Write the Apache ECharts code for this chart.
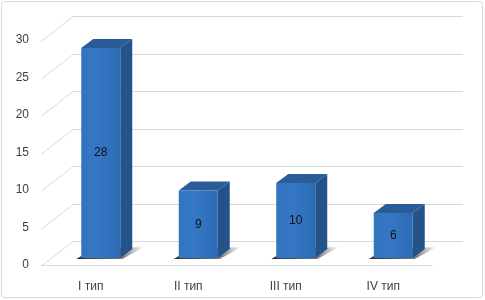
<!DOCTYPE html>
<html>
<head>
<meta charset="utf-8">
<script src="https://cdn.jsdelivr.net/npm/echarts@6/dist/echarts.min.js"></script>
<style>
html,body{margin:0;padding:0;background:#fff;}
#chart{width:485px;height:300px;}
</style>
</head>
<body>
<div id="chart"></div>
<script>
var categories = ['I тип', 'II тип', 'III тип', 'IV тип'];
var values = [28, 9, 10, 6];
var yTicks = [0, 5, 10, 15, 20, 25, 30];

var WALL_DX = 31, WALL_DY = -24;
var BAR_DX = 10, BAR_DY = -7;
var SIDE_DX = 12, SIDE_DY = -9;

var chart = echarts.init(document.getElementById('chart'), null, {renderer: 'canvas'});

function renderGrid(params, api) {
  var v = api.value(1);
  var cs = params.coordSys;
  var p = api.coord([0, v]);
  var y = Math.round(p[1]) + 0.5;
  var x0 = cs.x, x1 = cs.x + cs.width;
  return {
    type: 'polyline',
    shape: {points: [[x0 - 1, y + 1], [x0 + WALL_DX, y + WALL_DY], [x1 + WALL_DX, y + WALL_DY]]},
    style: {stroke: '#d9d9d9', lineWidth: 1, fill: null}
  };
}

function renderBar(params, api) {
  var idx = api.value(0);
  var v = api.value(1);
  var p0 = api.coord([idx, 0]);
  var p1 = api.coord([idx, v]);
  var bw = api.size([1, 0])[0];
  var w = bw * 0.4;
  var fx = p0[0] + BAR_DX - w / 2;
  var by = p0[1] + BAR_DY;
  var ty = p1[1] + BAR_DY;
  var rx = fx + w;
  return {
    type: 'group',
    children: [
      {type: 'polygon', shape: {points: [[fx - 5, by + 1], [rx + 2, by + 1], [rx + SIDE_DX + 12, by + SIDE_DY - 2], [fx + SIDE_DX, by + SIDE_DY]]},
        style: {fill: new echarts.graphic.LinearGradient(0, 0, 1, 0, [
          {offset: 0, color: 'rgba(20,20,20,0.9)'},
          {offset: 0.7, color: 'rgba(40,40,40,0.6)'},
          {offset: 1, color: 'rgba(80,80,80,0)'}])}},
      {type: 'polygon', shape: {points: [[rx, ty], [rx + SIDE_DX, ty + SIDE_DY], [rx + SIDE_DX, by + SIDE_DY], [rx, by]]},
        style: {fill: '#24538a'}},
      {type: 'polygon', shape: {points: [[fx, ty], [fx + SIDE_DX, ty + SIDE_DY], [rx + SIDE_DX, ty + SIDE_DY], [rx, ty]]},
        style: {fill: '#2a5c98'}},
      {type: 'rect', shape: {x: fx, y: ty, width: w, height: by - ty},
        style: {fill: new echarts.graphic.LinearGradient(0, 0, 1, 0, [
          {offset: 0, color: '#3274c0'},
          {offset: 0.4, color: '#3577c4'},
          {offset: 1, color: '#2d6cb5'}])}},
      {type: 'text', style: {text: String(v), x: fx + w / 2, y: (ty + by) / 2, align: 'center', verticalAlign: 'middle',
        fill: '#111', font: '12px "Liberation Sans", Arial, sans-serif'}}
    ]
  };
}

var option = {
  animation: false,
  backgroundColor: '#fff',
  grid: {left: 42, right: 53, top: 40, bottom: 35},
  xAxis: {
    type: 'category',
    data: categories,
    axisLine: {show: true, lineStyle: {color: '#d9d9d9'}},
    axisTick: {show: false},
    splitLine: {show: false},
    axisLabel: {color: '#404040', fontSize: 12, margin: 16, fontFamily: 'Liberation Sans'}
  },
  yAxis: {
    type: 'value',
    min: 0, max: 30, interval: 5,
    axisLine: {show: false},
    axisTick: {show: false},
    splitLine: {show: false},
    axisLabel: {color: '#404040', fontSize: 12, margin: 13, fontFamily: 'Liberation Sans'}
  },
  graphic: [{
    type: 'rect', shape: {x: 1.5, y: 1.5, width: 481, height: 296, r: 3},
    style: {fill: null, stroke: '#d9d9d9', lineWidth: 1}, silent: true, z: 100
  }],
  series: [
    {type: 'custom', silent: true, renderItem: renderGrid, z: 1,
      data: yTicks.map(function (t) { return [0, t]; })},
    {type: 'custom', renderItem: renderBar, z: 2,
      data: values.map(function (v, i) { return [i, v]; })}
  ]
};
chart.setOption(option);
</script>
</body>
</html>
